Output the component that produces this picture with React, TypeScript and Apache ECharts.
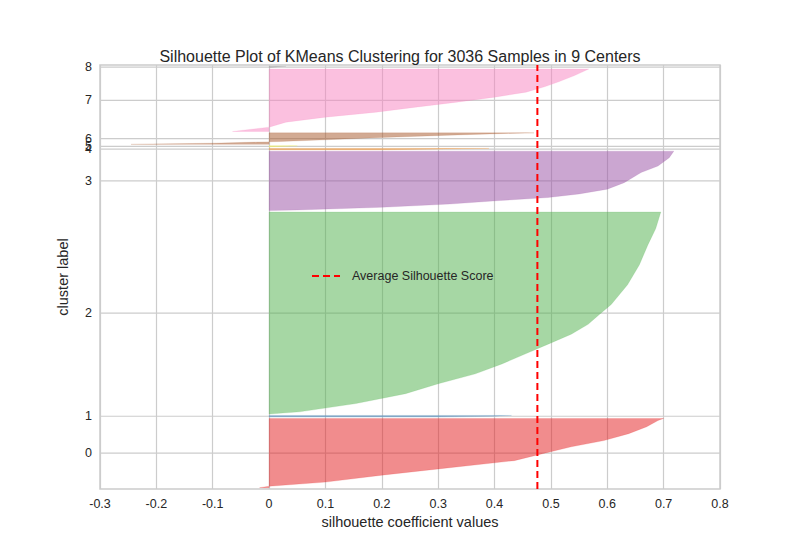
import { useEffect, useRef } from 'react';
import * as echarts from 'echarts';

// cluster sizes (samples per cluster), silhouette profile = [fraction from bottom, value]
const clusterSizes = [512, 12, 1495, 440, 10, 10, 85, 462, 10];
const clusterColors = ['#e41a1c', '#377eb8', '#4daf4a', '#984ea3', '#ff7f00', '#ffff33', '#a65628', '#f781bf', '#999999'];
const profiles: [number, number][][] = [
  [[0, -0.017], [0.02, 0], [0.08, 0.1], [0.18, 0.2], [0.27, 0.3], [0.39, 0.435], [0.49, 0.485], [0.59, 0.536], [0.68, 0.594], [0.78, 0.638], [0.88, 0.67], [0.97, 0.69], [1, 0.7]],
  [[0, 0.3], [0.5, 0.4], [1, 0.43]],
  [[0, 0], [0.011, 0.054], [0.052, 0.154], [0.101, 0.242], [0.15, 0.3], [0.199, 0.366], [0.248, 0.413], [0.297, 0.454], [0.346, 0.495], [0.395, 0.536], [0.444, 0.566], [0.493, 0.586], [0.542, 0.607], [0.64, 0.636], [0.739, 0.657], [0.837, 0.672], [0.918, 0.686], [1, 0.695]],
  [[0, 0], [0.01, 0.05], [0.056, 0.2], [0.11, 0.32], [0.17, 0.41], [0.22, 0.495], [0.28, 0.55], [0.36, 0.6], [0.47, 0.63], [0.64, 0.66], [0.75, 0.69], [0.89, 0.71], [1, 0.718]],
  [[0, 0.2], [1, 0.39]],
  [[0, 0.0], [1, 0.05]],
  [[0, -0.245], [0.1, -0.1], [0.2, -0.02], [0.25, 0.02], [0.4, 0.1], [0.6, 0.2], [0.8, 0.32], [0.95, 0.42], [1, 0.47]],
  [[0, -0.065], [0.07, 0], [0.15, 0.03], [0.23, 0.1], [0.31, 0.19], [0.39, 0.26], [0.47, 0.333], [0.55, 0.4], [0.63, 0.456], [0.72, 0.49], [0.8, 0.515], [0.9, 0.543], [1, 0.567]],
  [[0, 0.0], [1, 0.03]],
];
const averageScore = 0.476;
const xTicks = [-0.3, 0.8];

const font = 'Arial, "Liberation Sans", sans-serif';

export default function App() {
  const ref = useRef<HTMLDivElement | null>(null);

  useEffect(() => {
    if (!ref.current) return;
    const chart = echarts.init(ref.current, undefined, { renderer: 'svg' });

    let yLower = 10;
    const bands = clusterSizes.map((size, i) => {
      const band = { lower: yLower, upper: yLower + size, center: yLower + size / 2, i };
      yLower += size + 10;
      return band;
    });
    const yMax = yLower;
    const centers = bands.map((b) => b.center);

    chart.setOption({
      animation: false,
      backgroundColor: '#ffffff',
      title: {
        text: 'Silhouette Plot of KMeans Clustering for 3036 Samples in 9 Centers',
        left: 'center',
        top: 43,
        textStyle: { fontFamily: font, fontSize: 16, fontWeight: 'normal', color: '#262626' },
      },
      grid: { left: 100, right: 80, top: 65, bottom: 60, show: true, borderColor: '#cccccc', borderWidth: 1.5 },
      xAxis: {
        type: 'value',
        min: xTicks[0],
        max: xTicks[1],
        interval: 0.1,
        name: 'silhouette coefficient values',
        nameLocation: 'middle',
        nameGap: 25,
        nameTextStyle: { fontFamily: font, fontSize: 14.5, color: '#262626' },
        axisLine: { show: false },
        axisTick: { show: false },
        axisLabel: { fontFamily: font, fontSize: 12.5, color: '#262626', formatter: (v: number) => String(Math.round(v * 10) / 10) },
        splitLine: { lineStyle: { color: '#cccccc', width: 1.2 } },
      },
      yAxis: {
        type: 'value',
        min: 0,
        max: yMax,
        name: 'cluster label',
        nameLocation: 'middle',
        nameGap: 30,
        nameTextStyle: { fontFamily: font, fontSize: 14.5, color: '#262626' },
        axisLine: { show: false },
        axisTick: { show: false },
        splitLine: { show: false },
        axisLabel: {
          customValues: centers,
          fontFamily: font,
          fontSize: 12.5,
          color: '#262626',
          formatter: (v: number) => {
            const idx = centers.findIndex((c) => Math.abs(c - v) < 0.01);
            return idx >= 0 ? String(idx) : '';
          },
        },
      },
      series: [
        {
          type: 'custom',
          name: 'grid',
          silent: true,
          z: 1,
          data: centers.map((c) => [c]),
          renderItem: (_p: any, api: any) => {
            const a = api.coord([xTicks[0], api.value(0)]);
            const b = api.coord([xTicks[1], api.value(0)]);
            return { type: 'line', shape: { x1: a[0], y1: a[1], x2: b[0], y2: b[1] }, style: { stroke: '#cccccc', lineWidth: 1.2 } };
          },
        },
        {
          type: 'custom',
          name: 'silhouette',
          z: 2,
          data: bands.map((b) => [b.i, b.lower, b.upper]),
          renderItem: (_p: any, api: any) => {
            const i = api.value(0);
            const lo = api.value(1);
            const hi = api.value(2);
            const pts = [api.coord([0, lo])];
            profiles[i].forEach(([f, v]) => pts.push(api.coord([v, lo + f * (hi - lo)])));
            pts.push(api.coord([0, hi]));
            return {
              type: 'polygon',
              shape: { points: pts },
              style: { fill: clusterColors[i], opacity: 0.5, stroke: clusterColors[i], lineWidth: 0.3 },
            };
          },
        },
        {
          type: 'line',
          name: 'Average Silhouette Score',
          z: 3,
          symbol: 'none',
          data: [[averageScore, 0], [averageScore, yMax]],
          lineStyle: { color: '#ff0000', width: 2, type: [7, 4] },
        },
      ],
      graphic: [
        { type: 'line', z: 10, shape: { x1: 312, y1: 276, x2: 340, y2: 276 }, style: { stroke: '#ff0000', lineWidth: 2, lineDash: [7, 4] } },
        {
          type: 'text',
          z: 10,
          x: 352,
          y: 276,
          style: { text: 'Average Silhouette Score', fontFamily: font, fontSize: 12.5, fill: '#262626', verticalAlign: 'middle' },
        },
      ],
    });

    return () => chart.dispose();
  }, []);

  return <div ref={ref} style={{ width: 800, height: 549, margin: -8 }} />;
}
